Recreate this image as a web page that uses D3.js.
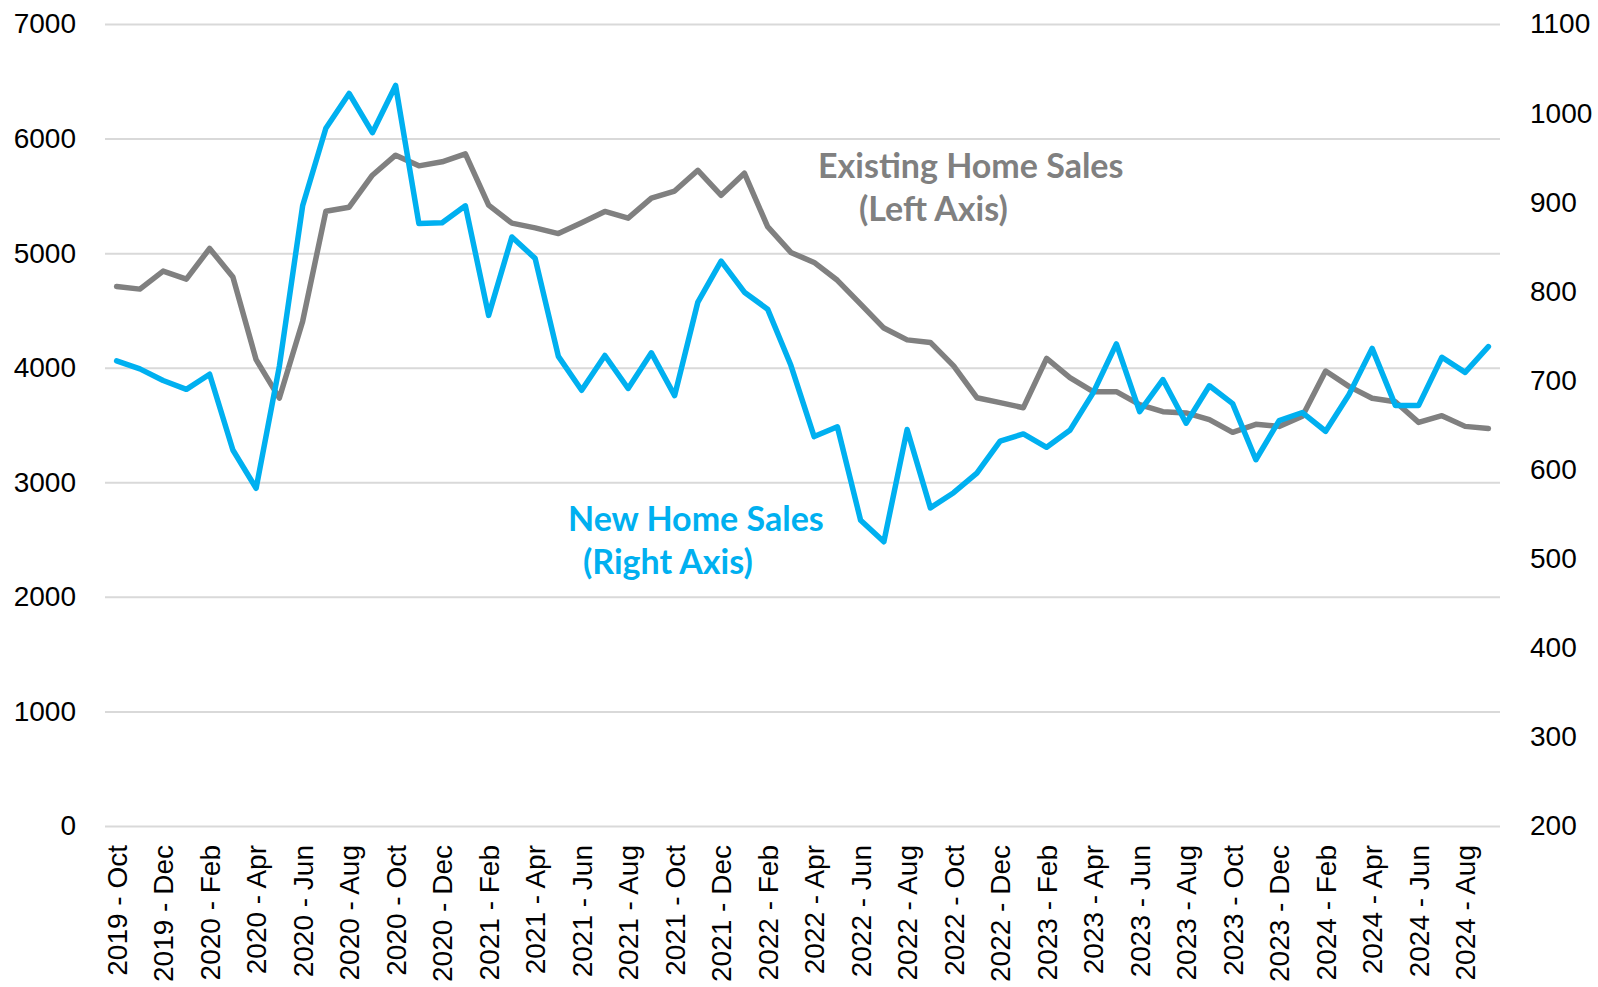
<!DOCTYPE html>
<html>
<head>
<meta charset="utf-8">
<script src="https://cdn.jsdelivr.net/npm/d3@7"></script>
<style>
  body { margin: 0; background: #fff; }
  svg { display: block; }
  .tick text { font-family: "Liberation Sans", Arial, sans-serif; fill: #000; }
</style>
</head>
<body>
<svg id="chart" width="1598" height="987"></svg>
<script>
// months, Oct 2019 .. Sep 2024
const months = [
  "2019 - Oct", "2019 - Nov", "2019 - Dec",
  "2020 - Jan", "2020 - Feb", "2020 - Mar", "2020 - Apr", "2020 - May", "2020 - Jun",
  "2020 - Jul", "2020 - Aug", "2020 - Sep", "2020 - Oct", "2020 - Nov", "2020 - Dec",
  "2021 - Jan", "2021 - Feb", "2021 - Mar", "2021 - Apr", "2021 - May", "2021 - Jun",
  "2021 - Jul", "2021 - Aug", "2021 - Sep", "2021 - Oct", "2021 - Nov", "2021 - Dec",
  "2022 - Jan", "2022 - Feb", "2022 - Mar", "2022 - Apr", "2022 - May", "2022 - Jun",
  "2022 - Jul", "2022 - Aug", "2022 - Sep", "2022 - Oct", "2022 - Nov", "2022 - Dec",
  "2023 - Jan", "2023 - Feb", "2023 - Mar", "2023 - Apr", "2023 - May", "2023 - Jun",
  "2023 - Jul", "2023 - Aug", "2023 - Sep", "2023 - Oct", "2023 - Nov", "2023 - Dec",
  "2024 - Jan", "2024 - Feb", "2024 - Mar", "2024 - Apr", "2024 - May", "2024 - Jun",
  "2024 - Jul", "2024 - Aug", "2024 - Sep"
];

// existing home sales (left axis)
const existingSales = [
  4709, 4686, 4843, 4773, 5041, 4791, 4070, 3735, 4404, 5366,
  5401, 5680, 5855, 5762, 5797, 5866, 5419, 5262, 5221, 5171,
  5265, 5364, 5305, 5480, 5542, 5723, 5505, 5698, 5231, 5006,
  4919, 4763, 4555, 4346, 4243, 4221, 4016, 3738, 3695, 3651,
  4081, 3913, 3791, 3791, 3677, 3616, 3605, 3547, 3436, 3506,
  3488, 3576, 3971, 3837, 3733, 3703, 3523, 3581, 3488, 3470
];

// new home sales (right axis)
const newSales = [
  722, 713, 700, 690, 707, 622, 579, 716, 896, 983,
  1022, 978, 1031, 876, 877, 896, 773, 861, 837, 727,
  689, 728, 691, 731, 683, 788, 834, 799, 780, 717,
  637, 648, 543, 519, 645, 557, 574, 596, 632, 640,
  625, 644, 686, 741, 665, 701, 652, 694, 674, 611,
  655, 664, 643, 684, 736, 672, 672, 726, 709, 738
];

const leftTicks = [0, 1000, 2000, 3000, 4000, 5000, 6000, 7000];
const rightTicks = [200, 300, 400, 500, 600, 700, 800, 900, 1000, 1100];

const svg = d3.select("#chart");
const margin = {top: 24, right: 98, bottom: 161, left: 105},
    width = 1598 - margin.left - margin.right,
    height = 987 - margin.top - margin.bottom;

const grey = "#808080", blue = "#00b0f0";

const x = d3.scalePoint()
    .domain(months)
    .range([0, width])
    .padding(0.5);
const yLeft = d3.scaleLinear().domain([0, 7000]).range([height, 0]);
const yRight = d3.scaleLinear().domain([200, 1100]).range([height, 0]);

const g = svg.append("g")
    .attr("transform", `translate(${margin.left},${margin.top})`);

// gridlines
g.append("g")
    .call(d3.axisLeft(yLeft).tickValues(leftTicks).tickSize(-width).tickFormat(""))
    .call(s => s.select(".domain").remove())
    .call(s => s.selectAll("line").attr("stroke", "#d9d9d9").attr("stroke-width", 2));

// left axis
g.append("g")
    .call(d3.axisLeft(yLeft).tickValues(leftTicks).tickSize(0).tickPadding(29).tickFormat(d3.format("d")))
    .call(s => s.select(".domain").remove())
    .call(s => s.selectAll("text").style("font-size", "28px"));

// right axis
g.append("g")
    .attr("transform", `translate(${width},0)`)
    .call(d3.axisRight(yRight).tickValues(rightTicks).tickSize(0).tickPadding(30).tickFormat(d3.format("d")))
    .call(s => s.select(".domain").remove())
    .call(s => s.selectAll("text").style("font-size", "28px"));

// x axis, every second month
g.append("g")
    .attr("transform", `translate(0,${height})`)
    .call(d3.axisBottom(x).tickValues(months.filter((d, i) => i % 2 === 0)).tickSize(0))
    .call(s => s.select(".domain").remove())
    .call(s => s.selectAll("text")
        .style("font-size", "28px")
        .attr("text-anchor", "end")
        .attr("transform", "rotate(-90)")
        .attr("x", -19)
        .attr("y", 0)
        .attr("dy", "0.35em"));

const lineLeft = d3.line()
    .x((d, i) => x(months[i]))
    .y(d => yLeft(d));
const lineRight = d3.line()
    .x((d, i) => x(months[i]))
    .y(d => yRight(d));

g.append("path")
    .datum(existingSales)
    .attr("d", lineLeft)
    .attr("fill", "none")
    .attr("stroke", grey)
    .attr("stroke-width", 5.5)
    .attr("stroke-linejoin", "round")
    .attr("stroke-linecap", "round");

g.append("path")
    .datum(newSales)
    .attr("d", lineRight)
    .attr("fill", "none")
    .attr("stroke", blue)
    .attr("stroke-width", 5.5)
    .attr("stroke-linejoin", "round")
    .attr("stroke-linecap", "round");

// series labels
const labels = [
  {text: "Existing Home Sales", x: 818, y: 178, color: grey},
  {text: "(Left Axis)", x: 859, y: 221, color: grey},
  {text: "New Home Sales", x: 568, y: 531, color: blue},
  {text: "(Right Axis)", x: 583, y: 574, color: blue}
];
svg.selectAll("text.series-label")
    .data(labels)
    .enter().append("text")
    .attr("class", "series-label")
    .attr("x", d => d.x)
    .attr("y", d => d.y)
    .style("font-family", "Lato, 'Open Sans', sans-serif")
    .style("font-weight", "bold")
    .style("font-size", "34px")
    .style("fill", d => d.color)
    .text(d => d.text);
</script>
</body>
</html>
